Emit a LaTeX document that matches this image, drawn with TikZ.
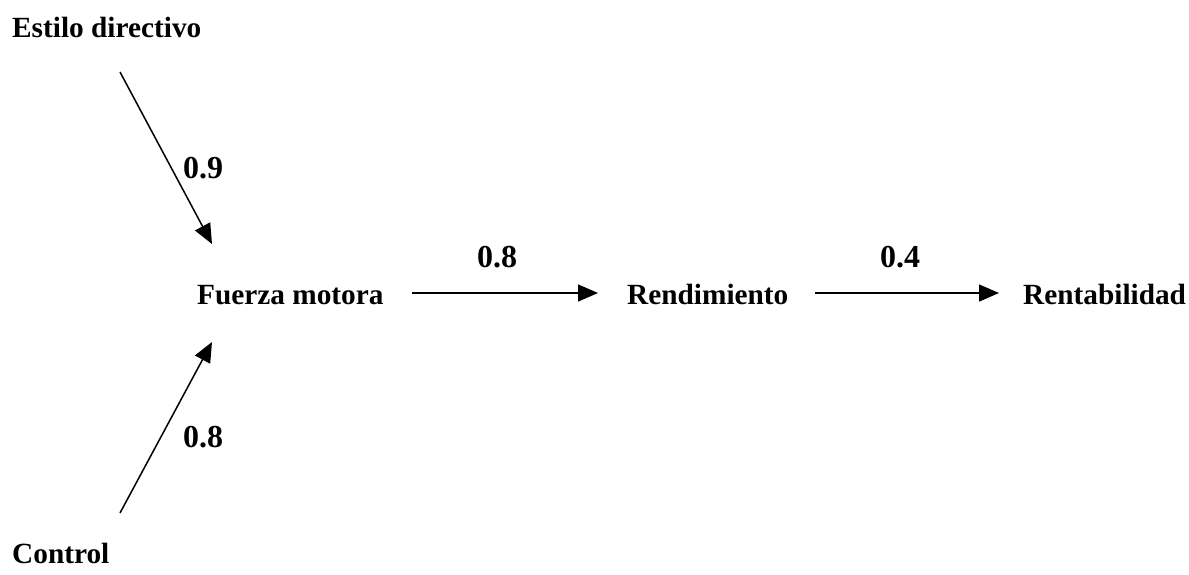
\documentclass[tikz,border=0pt]{standalone}
\usepackage{fontspec}
\setmainfont{Liberation Serif}
\usetikzlibrary{arrows.meta}
\begin{document}
\begin{tikzpicture}[x=1pt,y=-1pt,
  lbl/.style={anchor=base west,inner sep=0pt,font=\bfseries\fontsize{29.3}{35}\selectfont},
  coef/.style={anchor=base west,inner sep=0pt,font=\bfseries\fontsize{32}{38}\selectfont},
  arr/.style={line width=1.5pt,-{Triangle[length=20pt,width=17pt]}}]
\useasboundingbox (0,0) rectangle (1189,574);
% variables
\node[lbl] (estilo)  at (12,37)   {Estilo directivo};
\node[lbl] (control) at (12,563)  {Control};
\node[lbl] (fuerza)  at (197,304) {Fuerza motora};
\node[lbl] (rend)    at (627,304) {Rendimiento};
\node[lbl] (rent)    at (1023,304) {Rentabilidad};
% arrow end points
\coordinate (e0) at (120,72);
\coordinate (e1) at (212,244);
\coordinate (c0) at (120,513);
\coordinate (c1) at (212,342);
\coordinate (f0) at (412,293);
\coordinate (f1) at (598,293);
\coordinate (r0) at (815,293);
\coordinate (r1) at (999,293);
% paths
\draw[arr] (e0) -- (e1);
\draw[arr] (c0) -- (c1);
\draw[arr] (f0) -- (f1);
\draw[arr] (r0) -- (r1);
% coefficients
\node[coef] (k1) at (183,178) {0.9};
\node[coef] (k2) at (183,447) {0.8};
\node[coef] (k3) at (477,267) {0.8};
\node[coef] (k4) at (880,267) {0.4};
\end{tikzpicture}
\end{document}
